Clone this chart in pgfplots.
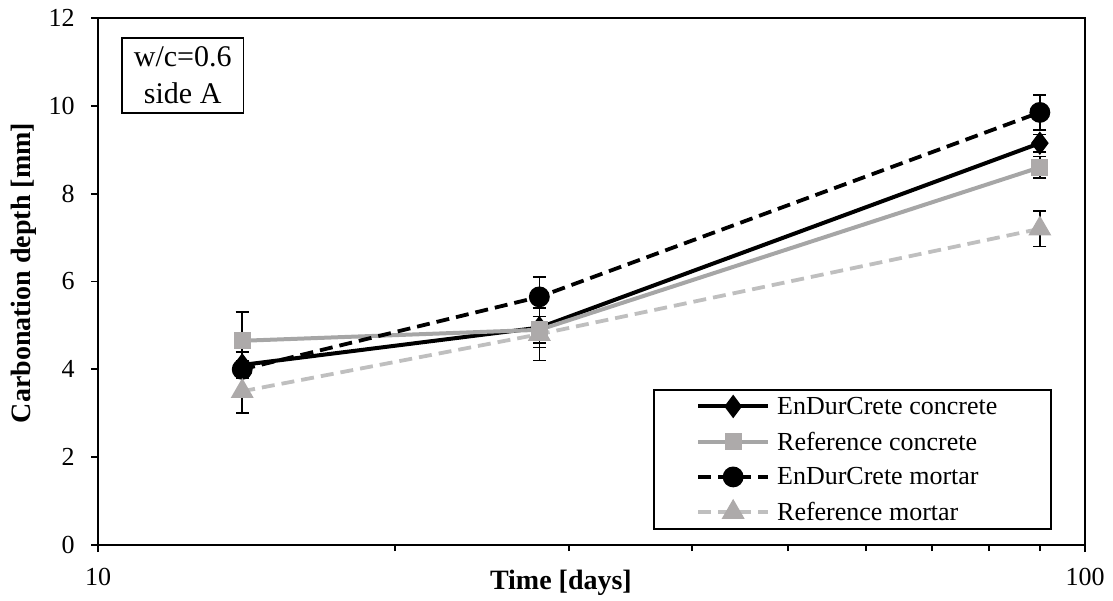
\documentclass[border=0pt]{standalone}
\usepackage{fontspec}
\setmainfont{Liberation Serif}
\usepackage{pgfplots}
\usepackage{pgfplotstable}
\pgfplotsset{compat=1.18}
\definecolor{gA}{RGB}{166,166,166}
\definecolor{gB}{RGB}{191,191,191}
\definecolor{gM}{RGB}{173,170,170}

\pgfplotstableread{
x y e
14 4.1 0.3
28 4.95 0.45
90 9.15 0.2
}\edcc
\pgfplotstableread{
x y e
14 4.65 0.65
28 4.9 0.3
90 8.6 0.25
}\refc
\pgfplotstableread{
x y e
14 4.0 0.2
28 5.65 0.45
90 9.85 0.4
}\edcm
\pgfplotstableread{
x y e
14 3.5 0.5
28 4.8 0.6
90 7.2 0.4
}\refm

\begin{document}
\begin{tikzpicture}
\useasboundingbox (-98bp,-56bp) rectangle (1015bp,545bp);
\begin{axis}[
  scale only axis, width=987bp, height=527bp,
  xmode=log, xmin=10, xmax=100, ymin=0, ymax=12,
  ytick={0,2,4,6,8,10,12},
  xtick={10,100}, xticklabels={10,100},
  minor xtick={20,30,40,50,60,70,80,90},
  tick align=outside, xtick pos=bottom, ytick pos=left,
  major tick length=7bp, minor tick length=6bp,
  axis line style={line width=2bp},
  every tick/.style={line width=1.8bp, black},
  /pgf/number format/assume math mode=true,
  tick label style={font=\fontsize{26bp}{31bp}\selectfont},
  yticklabel style={anchor=east, xshift=-13bp},
  xticklabel style={anchor=north, yshift=-13bp},
  xlabel={Time [days]},
  ylabel={Carbonation depth [mm]},
  xlabel style={font=\fontsize{28bp}{32bp}\selectfont\bfseries, at={(axis description cs:0.469,0)}, anchor=north, inner sep=0pt, yshift=-25bp},
  ylabel style={font=\fontsize{28bp}{32bp}\selectfont\bfseries, at={(axis description cs:-0.0881,0.516)}, anchor=north, inner sep=0pt},
  legend cell align=left,
  legend style={at={(rel axis cs:0.9666,0.0285)}, anchor=south east,
    draw=black, line width=1.8bp, inner xsep=42bp, inner ysep=5bp,
    font=\fontsize{26bp}{31bp}\selectfont, row sep=12bp,
    /tikz/every even column/.append style={column sep=0bp},
  },
  legend image code/.code={%
    \draw[mark repeat=2,mark phase=2] plot coordinates {(0bp,0bp) (35bp,0bp) (70bp,0bp)};},
  error bars/y dir=both, error bars/y explicit,
  error bars/error bar style={black, solid, line width=1.6bp},
  error bars/error mark options={black, solid, rotate=90, mark size=6.5bp, line width=1.6bp},
]
\addplot[black, line width=4bp, mark=diamond*, mark size=8.5bp, mark options={solid, fill=black}]
  table[x=x, y=y, y error=e] {\edcc};
\addlegendentry{\hspace{5bp}\makebox[230bp][l]{EnDurCrete concrete}}
\addplot[gA, line width=4bp, mark=square*, mark size=6.5bp, mark options={solid, fill=gM, draw=gM}]
  table[x=x, y=y, y error=e] {\refc};
\addlegendentry{\hspace{5bp}\makebox[230bp][l]{Reference concrete}}
\addplot[black, line width=3.8bp, dash pattern=on 13bp off 7bp, mark=*, mark size=8.5bp, mark options={solid, fill=black}]
  table[x=x, y=y, y error=e] {\edcm};
\addlegendentry{\hspace{5bp}\makebox[230bp][l]{EnDurCrete mortar}}
\addplot[gB, line width=3.8bp, dash pattern=on 13bp off 7bp, mark=triangle*, mark size=9.5bp, mark options={solid, fill=gM, draw=gM}]
  table[x=x, y=y, y error=e] {\refm};
\addlegendentry{\hspace{5bp}\makebox[230bp][l]{Reference mortar}}
\node[draw=black, line width=1.8bp, align=center, anchor=north west, inner xsep=12bp, inner ysep=9bp,
  font=\fontsize{30bp}{37bp}\selectfont] at (axis cs:10.55,11.57) {w/c=0.6\\side A};
\end{axis}
\end{tikzpicture}
\end{document}
